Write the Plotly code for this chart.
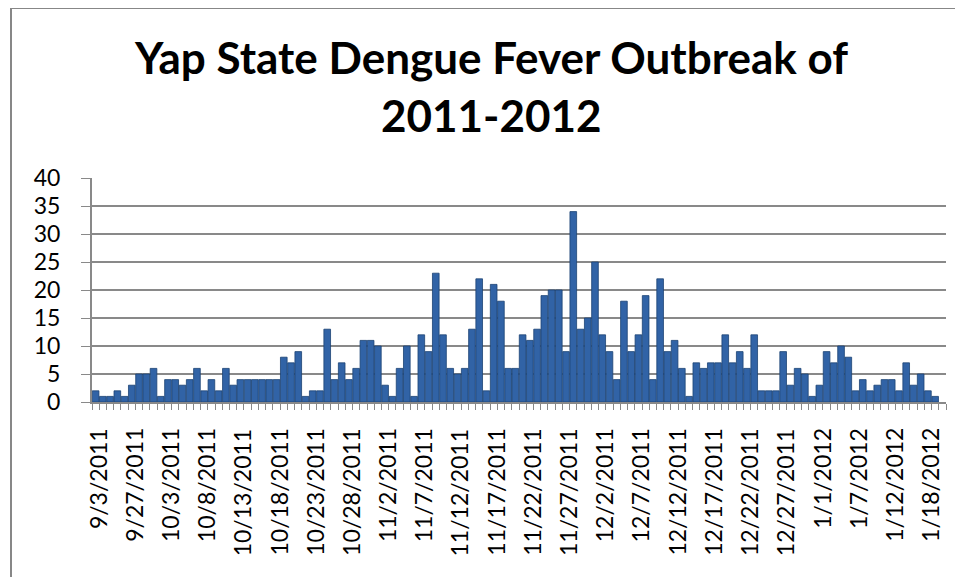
import plotly.graph_objects as go
import pandas as pd

# ---- data ----
early_dates = ["9/3/2011", "9/10/2011", "9/15/2011", "9/20/2011", "9/24/2011"]
skipped_dates = ["10/2/2011", "1/2/2012", "1/15/2012"]
cases = [
    2, 1, 1, 2, 1,
    3, 5, 5, 6, 1,
    4, 4, 3, 4, 6,
    2, 4, 2, 6, 3,
    4, 4, 4, 4, 4, 4,
    8, 7, 9,
    1, 2, 2,
    13, 4, 7, 4, 6,
    11, 11, 10, 3, 1,
    6, 10, 1, 12, 9,
    23, 12, 6, 5, 6,
    13, 22, 2, 21, 18,
    6, 6, 12, 11, 13,
    19, 20, 20, 9, 34,
    13, 15, 25, 12, 9,
    4, 18, 9, 12, 19,
    4, 22, 9, 11, 6,
    1, 7, 6, 7, 7,
    12, 7, 9, 6, 12,
    2, 2, 2, 9, 3,
    6, 5, 1, 3, 9,
    7, 10, 8, 2, 4,
    2, 3, 4, 4, 2,
    7, 3, 5, 2, 1,
    None,
]
title_lines = ["Yap State Dengue Fever Outbreak of", "2011-2012"]

def fmt(d):
    return f"{d.month}/{d.day}/{d.year}"

skip = set(skipped_dates)
later = [fmt(d) for d in pd.date_range("2011-09-27", "2012-01-20") if fmt(d) not in skip]
dates = early_dates + later
label_dates = [d for i, d in enumerate(dates) if i % 5 == 0]

# ---- layout geometry (page pixels; the page body adds an 8px offset) ----
OFF = 8
PAGE_W, PAGE_H = 963, 577
W, H = PAGE_W - OFF, PAGE_H - OFF
plot_left, plot_right, plot_top, plot_bottom = 92, 946, 178, 402
L = plot_left - OFF
R = PAGE_W - plot_right
T = plot_top - OFF
B = PAGE_H - plot_bottom
pw, ph = W - L - R, H - T - B

def px2paper_x(px):
    return (px - OFF - L) / pw

def px2paper_y(py):
    return (H - B - (py - OFF)) / ph

grid = "#898989"
font_family = "Lato, 'Open Sans', sans-serif"

fig = go.Figure(
    go.Bar(
        x=dates,
        y=cases,
        marker=dict(color="#3163A6", line=dict(color="#1C4274", width=0.8)),
    )
)

title_y = [57, 115]
title_annots = [
    dict(
        text=f"<b>{line}</b>",
        font=dict(family=font_family, size=44, color="black"),
        xref="paper",
        yref="paper",
        x=px2paper_x(491),
        y=px2paper_y(yy),
        xanchor="center",
        yanchor="middle",
        showarrow=False,
    )
    for line, yy in zip(title_lines, title_y)
]
tick_annots = [
    dict(
        text=d,
        font=dict(family=font_family, size=23, color="black"),
        xref="x",
        yref="paper",
        x=d,
        y=px2paper_y(426),
        xanchor="center",
        yanchor="top",
        textangle=-90,
        xshift=2,
        showarrow=False,
    )
    for d in label_dates
]

fig.update_layout(
    width=W,
    height=H,
    margin=dict(l=L, r=R, t=T, b=B, pad=0, autoexpand=False),
    paper_bgcolor="white",
    plot_bgcolor="white",
    bargap=0.08,
    showlegend=False,
    font=dict(family=font_family, color="black"),
    annotations=title_annots + tick_annots,
    shapes=[
        dict(
            type="rect",
            xref="paper",
            yref="paper",
            x0=px2paper_x(11),
            x1=px2paper_x(990),
            y0=px2paper_y(610),
            y1=px2paper_y(8),
            line=dict(color="#878787", width=2),
            fillcolor="rgba(0,0,0,0)",
            layer="below",
        )
    ],
)

fig.update_xaxes(
    type="category",
    automargin=False,
    autorange=False,
    range=[-0.5, len(dates) - 0.5],
    tickmode="array",
    tickvals=dates,
    showticklabels=False,
    tickson="boundaries",
    ticks="outside",
    ticklen=6,
    tickcolor=grid,
    tickwidth=1,
    showgrid=False,
    showline=True,
    linecolor=grid,
    linewidth=2,
)
fig.update_yaxes(
    automargin=False,
    range=[0, 40],
    dtick=5,
    tick0=0,
    showgrid=True,
    gridcolor=grid,
    gridwidth=1.5,
    showline=True,
    linecolor=grid,
    linewidth=2,
    ticks="outside",
    ticklen=9,
    tickcolor=grid,
    ticklabelstandoff=16,
    zeroline=False,
    tickfont=dict(family=font_family, size=23, color="black"),
)

fig.write_html("out.html")
